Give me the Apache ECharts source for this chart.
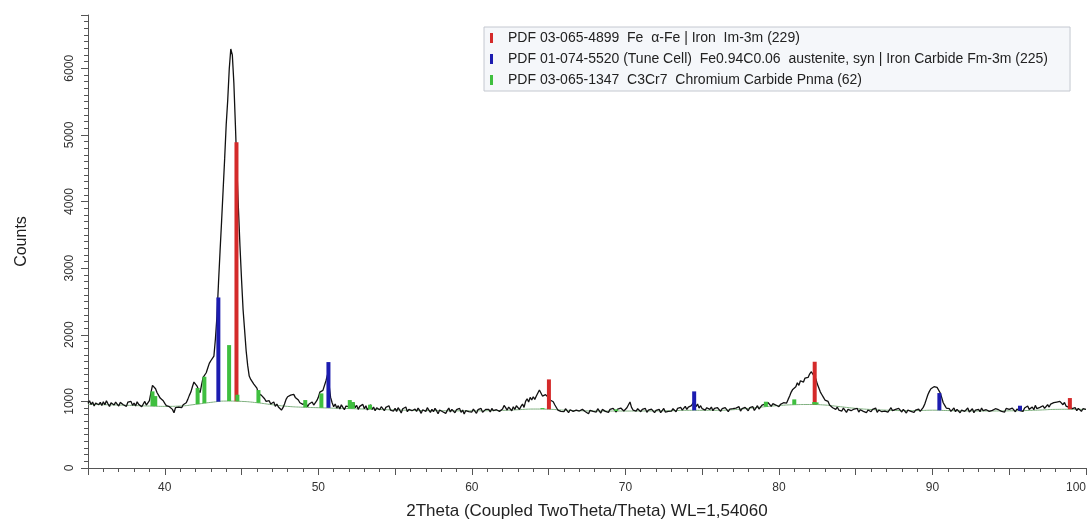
<!DOCTYPE html>
<html lang="en">
<head>
<meta charset="UTF-8">
<title>XRD</title>
<style>
  html, body { margin: 0; padding: 0; background: #fff; }
  #chart { width: 1087px; height: 522px; }
</style>
</head>
<body>
<div id="chart"></div>
<script src="https://cdn.jsdelivr.net/npm/echarts@6/dist/echarts.min.js"></script>
<script>
// scan: 2theta from 35 to 100, step 0.1
var scanStart = 35
var scanStep = 0.1
var counts = [
  970, 1010, 955, 990, 930, 975, 1005, 950, 985, 940,   // 35
  995, 950, 1010, 965, 925, 980, 1000, 945, 990, 960,   // 36
  930, 985, 1005, 950, 970, 925, 990, 960, 1000, 940,   // 37
  975, 930, 995, 955, 985, 920, 960, 1000, 945, 935,    // 38
  1010, 1130, 1240, 1270, 1190, 1130, 1090, 1050, 1060, 1010, // 39
  970, 935, 950, 920, 945, 880, 830, 905, 935, 915,     // 40
  935, 905, 950, 930, 980, 1030, 1090, 1140, 1220, 1290, // 41
  1295, 1230, 1170, 1130, 1250, 1360, 1390, 1430, 1500, 1570, // 42
  1610, 1640, 1680, 1940, 2280, 2780, 3250, 3700, 4170, 4640, // 43
  5150, 5520, 5990, 6290, 6200, 5780, 5150, 4480, 3880, 3320, // 44
  2830, 2380, 2070, 1760, 1540, 1380, 1330, 1300, 1260, 1250, // 45
  1200, 1120, 1140, 1090, 1110, 1040, 1000, 975, 1010, 960,  // 46
  945, 990, 925, 960, 915, 940, 870, 905, 960, 1030,    // 47
  1070, 1050, 1095, 1120, 1105, 1060, 1080, 1020, 980, 1000, // 48
  955, 940, 975, 920, 960, 935, 990, 945, 975, 1010,    // 49
  1060, 1140, 1110, 1165, 1180, 1310, 1400, 1250, 1060, 980, // 50
  920, 960, 900, 935, 885, 950, 910, 875, 930, 960,     // 51
  920, 995, 950, 985, 905, 940, 880, 925, 900, 955,     // 52
  890, 935, 870, 910, 950, 880, 915, 860, 905, 935,     // 53
  875, 920, 895, 860, 910, 880, 935, 870, 900, 855,     // 54
  895, 850, 905, 870, 825, 890, 860, 915, 845, 880,     // 55
  905, 860, 830, 885, 850, 900, 865, 820, 875, 890,     // 56
  850, 905, 870, 835, 880, 845, 895, 860, 815, 870,     // 57
  890, 845, 870, 820, 865, 900, 840, 880, 855, 830,     // 58
  875, 850, 895, 835, 870, 810, 860, 885, 845, 875,     // 59
  840, 885, 860, 820, 875, 850, 895, 835, 865, 880,     // 60
  850, 880, 840, 895, 860, 830, 875, 900, 850, 870,     // 61
  885, 940, 905, 870, 915, 890, 860, 920, 880, 935,     // 62
  905, 880, 925, 960, 910, 1000, 1040, 990, 1060, 1020, // 63
  1070, 1030, 1080, 1110, 1170, 1140, 1080, 1070, 1100, 1085, // 64
  1060, 1020, 1030, 995, 950, 920, 870, 895, 850, 880,  // 65
  845, 890, 860, 830, 875, 900, 850, 820, 870, 885,     // 66
  855, 830, 880, 900, 845, 870, 815, 865, 890, 850,     // 67
  875, 840, 890, 860, 825, 880, 905, 850, 870, 835,     // 68
  880, 855, 895, 870, 840, 885, 865, 900, 880, 855,     // 69
  870, 905, 930, 990, 910, 870, 885, 855, 890, 870,     // 70
  845, 880, 860, 895, 835, 870, 850, 885, 860, 830,     // 71
  865, 845, 880, 830, 860, 895, 840, 870, 850, 880,     // 72
  855, 890, 870, 845, 895, 880, 910, 870, 900, 925,     // 73
  880, 915, 890, 935, 960, 1010, 920, 960, 900, 935,    // 74
  890, 920, 870, 905, 930, 880, 915, 860, 895, 870,     // 75
  905, 875, 850, 890, 860, 905, 880, 845, 885, 870,     // 76
  890, 860, 900, 875, 920, 855, 890, 870, 910, 880,     // 77
  860, 905, 880, 920, 865, 900, 935, 885, 910, 945,     // 78
  920, 960, 935, 980, 950, 925, 965, 990, 945, 975,     // 79
  920, 955, 940, 980, 960, 975, 1030, 1080, 1140, 1180, // 80
  1150, 1220, 1280, 1240, 1310, 1330, 1290, 1350, 1380, 1360, // 81
  1410, 1445, 1420, 1380, 1340, 1260, 1200, 1140, 1100, 1060, // 82
  1020, 990, 1000, 945, 960, 905, 925, 880, 915, 870,   // 83
  890, 855, 900, 870, 835, 880, 910, 860, 845, 885,     // 84
  860, 895, 840, 875, 905, 850, 880, 830, 870, 895,     // 85
  845, 880, 860, 900, 835, 870, 890, 845, 875, 855,     // 86
  885, 840, 870, 905, 860, 830, 880, 850, 895, 865,     // 87
  840, 880, 855, 825, 870, 895, 850, 875, 835, 870,     // 88
  860, 885, 850, 870, 910, 960, 1030, 1100, 1150, 1190, // 89
  1215, 1220, 1205, 1210, 1190, 1130, 1060, 980, 940, 900, // 90
  870, 890, 850, 875, 900, 845, 880, 860, 830, 870,     // 91
  885, 850, 875, 900, 840, 865, 890, 830, 870, 855,     // 92
  880, 845, 900, 860, 835, 875, 890, 850, 880, 865,     // 93
  845, 890, 860, 875, 905, 850, 880, 840, 895, 865,     // 94
  880, 850, 900, 870, 845, 885, 910, 860, 875, 850,     // 95
  900, 870, 930, 880, 855, 915, 875, 940, 890, 860,     // 96
  910, 880, 935, 895, 925, 950, 915, 960, 935, 980,     // 97
  955, 990, 960, 1000, 975, 950, 985, 930, 955, 910,    // 98
  935, 890, 870, 905, 860, 895, 875, 850, 890, 870,     // 99
  880                                                   // 100
]

// fitted background, one value per degree from 35 to 100
var bgStart = 35
var background = [
  955, 950, 945, 938, 930, 925, 930, 955, 985, 1005,
  1000, 980, 950, 925, 912, 905, 898, 892, 885, 878,
  872, 866, 862, 860, 858, 858, 860, 865, 875, 885,
  882, 868, 860, 856, 855, 855, 856, 857, 860, 866,
  866, 866, 875, 895, 918, 938, 950, 953, 945, 920,
  895, 878, 868, 862, 862, 868, 862, 858, 856, 856,
  858, 862, 870, 880, 882, 878
]

// reference patterns: position, line base, line top
var fePos = [44.67, 65.02, 82.33, 98.95]
var feBase = [1003, 882, 952, 882]
var feTop = [4890, 1330, 1595, 1050]

var austPos = [43.49, 50.66, 74.48, 90.45, 95.7]
var austBase = [995, 903, 866, 866, 860]
var austTop = [2560, 1590, 1150, 1125, 935]

var crPos = [39.2, 39.38, 42.14, 42.58, 44.19, 44.73, 46.1, 49.15, 50.2, 52.05, 52.25, 53.37, 64.6, 69.4, 79.15, 81.0, 82.3, 82.45]
var crBase = [929, 928, 959, 972, 1005, 1002, 978, 911, 904, 892, 890, 883, 884, 855, 921, 950, 953, 952]
var crTop = [1150, 1080, 1200, 1370, 1845, 1100, 1170, 1020, 1120, 1020, 990, 950, 900, 880, 995, 1030, 990, 985]

var phaseNames = [
  'PDF 03-065-4899  Fe  \u03b1-Fe | Iron  Im-3m (229)',
  'PDF 01-074-5520 (Tune Cell)  Fe0.94C0.06  austenite, syn | Iron Carbide Fm-3m (225)',
  'PDF 03-065-1347  C3Cr7  Chromium Carbide Pnma (62)'
]
var phaseColors = ['#d42a2a', '#1c1cb0', '#3fbf3f']

var scan = counts.map(function (c, i) { return [+(scanStart + i * scanStep).toFixed(1), c] })
var bgLine = background.map(function (c, i) { return [bgStart + i, c] })

function sticks(pos, base, top) {
  return pos.map(function (p, i) { return [p, base[i], top[i]] })
}

function stickItem(params, api) {
  var hi = api.coord([api.value(0), api.value(2)])
  var lo = api.coord([api.value(0), api.value(1)])
  var w = 4
  return {
    type: 'rect',
    shape: { x: hi[0] - w / 2, y: hi[1], width: w, height: lo[1] - hi[1] },
    style: { fill: api.visual('color') }
  }
}

function stickSeries(name, color, data) {
  return {
    name: name,
    type: 'custom',
    renderItem: stickItem,
    encode: { x: 0, y: [1, 2] },
    itemStyle: { color: color },
    data: data,
    z: 5
  }
}

var font = 'Liberation Sans, Arial, sans-serif'
var chart = echarts.init(document.getElementById('chart'))
chart.setOption({
  animation: false,
  textStyle: { fontFamily: font },
  grid: { left: 88, right: 1, top: 15, bottom: 54, outerBoundsMode: 'none', containLabel: false },
  legend: {
    orient: 'vertical',
    left: 484,
    top: 27,
    icon: 'rect',
    itemWidth: 3,
    itemHeight: 10,
    itemGap: 7,
    padding: [4, 22, 4, 6],
    backgroundColor: '#f5f7fa',
    borderColor: '#c4c8d0',
    borderWidth: 1,
    selectedMode: false,
    textStyle: { fontSize: 14, color: '#222', fontFamily: font, padding: [0, 0, 0, 10], lineHeight: 14 },
    data: phaseNames
  },
  xAxis: {
    type: 'value',
    min: 35,
    max: 100,
    interval: 5,
    name: '2Theta (Coupled TwoTheta/Theta) WL=1,54060',
    nameLocation: 'middle',
    nameGap: 35,
    nameTextStyle: { fontSize: 17, color: '#222' },
    axisLine: { lineStyle: { color: '#555' } },
    axisTick: { length: 7, lineStyle: { color: '#555' } },
    minorTick: { show: true, splitNumber: 5, length: 4, lineStyle: { color: '#555' } },
    splitLine: { show: false },
    axisLabel: {
      margin: 14, fontSize: 12, color: '#333', alignMaxLabel: 'right',
      formatter: function (v) { return v % 10 === 0 ? String(v) : '' }
    }
  },
  yAxis: {
    type: 'value',
    min: 0,
    max: 6800,
    interval: 1000,
    name: 'Counts',
    nameLocation: 'middle',
    nameGap: 58,
    nameTextStyle: { fontSize: 16, color: '#222' },
    axisLine: { show: true, lineStyle: { color: '#555' } },
    axisTick: { show: true, length: 7, lineStyle: { color: '#555' } },
    minorTick: { show: true, splitNumber: 10, length: 4, lineStyle: { color: '#555' } },
    splitLine: { show: false },
    axisLabel: {
      rotate: 90, margin: 12, fontSize: 12, color: '#333',
      formatter: function (v) { return v % 1000 === 0 ? String(v) : '' }
    }
  },
  series: [
    {
      name: 'background',
      type: 'line',
      data: bgLine,
      smooth: true,
      showSymbol: false,
      lineStyle: { color: '#7fb07f', width: 1 },
      z: 2
    },
    {
      name: 'scan',
      type: 'line',
      data: scan,
      showSymbol: false,
      lineStyle: { color: '#111', width: 1.3 },
      z: 3
    },
    stickSeries(phaseNames[0], phaseColors[0], sticks(fePos, feBase, feTop)),
    stickSeries(phaseNames[1], phaseColors[1], sticks(austPos, austBase, austTop)),
    stickSeries(phaseNames[2], phaseColors[2], sticks(crPos, crBase, crTop))
  ]
})
</script>
</body>
</html>
